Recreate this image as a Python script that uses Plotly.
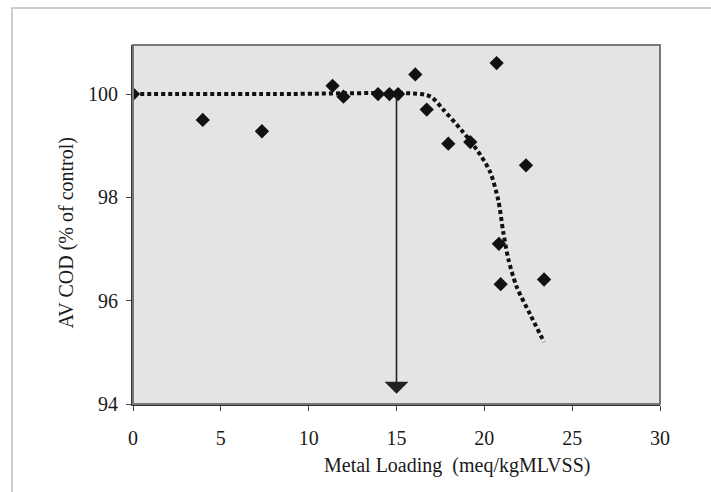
import plotly.graph_objects as go

# Measured data (metal loading vs AV COD % of control)
loading = [0, 3.97, 7.34, 11.36, 11.98, 13.95, 14.6, 15.09, 16.07, 16.72,
           17.95, 19.2, 20.7, 22.37, 20.83, 20.93, 23.4]
cod = [100.0, 99.50, 99.28, 100.16, 99.95, 100.0, 100.0, 100.0, 100.38, 99.70,
       99.04, 99.07, 100.6, 98.62, 97.10, 96.32, 96.41]

# Fitted (dotted) curve
fit_x = [0, 8, 16.4, 17.0, 17.66, 18.7, 19.56, 20.32, 20.79, 21.08, 21.37, 21.84, 22.6, 23.4]
fit_y = [100.0, 100.0, 100.0, 99.94, 99.70, 99.30, 98.93, 98.50, 97.95, 97.32, 96.80, 96.27, 95.74, 95.2]

# Threshold arrow
arrow_x = 15
arrow_from = 100.0
arrow_to = 94.2

x_ticks = [0, 5, 10, 15, 20, 25, 30]
y_ticks = [94, 96, 98, 100]

FONT = "Liberation Serif, Times New Roman, serif"

fig = go.Figure()
fig.add_trace(go.Scatter(x=fit_x, y=fit_y, mode="lines",
                         line=dict(color="#111111", width=4, dash="4px,3px",
                                   shape="spline", smoothing=0.8),
                         hoverinfo="skip", showlegend=False))
fig.add_trace(go.Scatter(x=loading, y=cod, mode="markers",
                         marker=dict(symbol="diamond", size=11, color="#111111"),
                         showlegend=False))

fig.add_annotation(x=arrow_x, y=arrow_to, ax=arrow_x, ay=arrow_from,
                   xref="x", yref="y", axref="x", ayref="y",
                   showarrow=True, arrowhead=1, arrowsize=2.5, arrowwidth=1.6,
                   arrowcolor="#222222", text="")

L, R, T, B = 133, 51, 45, 88
W, H = 711, 492
pw, ph = W - L - R, H - T - B

def px2paper_x(px):
    return (px - L) / pw

def px2paper_y(py):
    return (H - B - py) / ph

fig.add_annotation(text="Metal Loading  (meq/kgMLVSS)", xref="paper", yref="paper",
                   x=px2paper_x(457), y=px2paper_y(479), showarrow=False,
                   font=dict(family=FONT, size=20, color="#1a1a1a"))
fig.add_annotation(text="AV COD (% of control)", xref="paper", yref="paper",
                   x=px2paper_x(52), y=px2paper_y(233), showarrow=False, textangle=-90,
                   font=dict(family=FONT, size=20, color="#1a1a1a"))

# outer chart frame (top and left visible)
fig.add_shape(type="rect", xref="paper", yref="paper",
              x0=px2paper_x(12), x1=px2paper_x(W + 5), y0=px2paper_y(H + 5), y1=px2paper_y(8),
              line=dict(color="#bdbdbd", width=1.5), layer="below")
# plot-area border
fig.add_shape(type="rect", xref="paper", yref="paper", x0=0, x1=1, y0=0, y1=1,
              line=dict(color="#777777", width=2))

fig.update_layout(
    width=W, height=H,
    margin=dict(l=L, r=R, t=T, b=B),
    paper_bgcolor="#ffffff",
    plot_bgcolor="#e4e4e4",
    font=dict(family=FONT, size=20, color="#1a1a1a"),
    showlegend=False,
    xaxis=dict(range=[0, 30], tickvals=x_ticks, ticks="outside", ticklen=5,
               tickcolor="#444444", showgrid=False, zeroline=False,
               showline=True, linecolor="#333333", linewidth=2,
               ticklabelstandoff=10, tickfont=dict(size=20)),
    yaxis=dict(range=[94, 100.95], tickvals=y_ticks, ticks="outside", ticklen=5,
               tickcolor="#444444", showgrid=False, zeroline=False,
               showline=True, linecolor="#333333", linewidth=2,
               ticklabelstandoff=4, tickfont=dict(size=20)),
)

fig.write_html("out.html")
